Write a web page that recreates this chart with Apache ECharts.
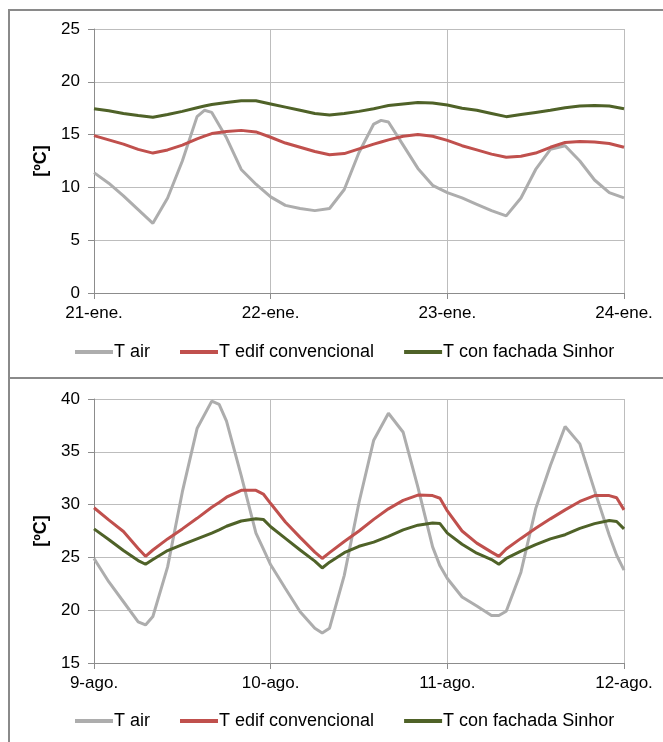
<!DOCTYPE html>
<html>
<head>
<meta charset="utf-8">
<script src="https://cdn.jsdelivr.net/npm/echarts@6/dist/echarts.min.js"></script>
<style>
  html, body { margin: 0; padding: 0; background: #ffffff; }
  #chart { width: 663px; height: 742px; }
</style>
</head>
<body>
<div id="chart"></div>
<script>
// Hours from the start of each 3-day window
const hoursWinter = [0,2,4,6,8,10,12,14,15,16,18,20,22,24,26,28,30,32,34,36,38,39,40,42,44,46,48,50,52,54,56,58,60,62,64,66,68,70,72];
const hoursSummer = [0,2,4,6,7,8,10,12,14,16,17,18,20,22,23,24,26,28,30,31,32,34,36,38,40,42,44,46,47,48,50,52,54,55,56,58,60,62,64,66,68,70,71,72];

// Day tick labels
const winterDays = ['21-ene.', '22-ene.', '23-ene.', '24-ene.'];
const summerDays = ['9-ago.', '10-ago.', '11-ago.', '12-ago.'];

const seriesNames = ['T air', 'T edif convencional', 'T con fachada Sinhor'];

// 21-24 January
const winterAir = [11.4,10.4,9.2,7.9,6.6,9.0,12.5,16.7,17.3,17.1,14.7,11.7,10.3,9.1,8.3,8.0,7.8,8.0,9.8,13.3,16.0,16.35,16.2,14.0,11.8,10.2,9.5,9.0,8.4,7.8,7.3,9.0,11.7,13.6,13.95,12.5,10.7,9.5,9.0];
const winterConv = [14.9,14.5,14.1,13.6,13.25,13.55,14.0,14.6,14.85,15.1,15.3,15.4,15.25,14.75,14.2,13.8,13.4,13.1,13.2,13.65,14.1,14.3,14.5,14.85,15.0,14.85,14.45,13.95,13.55,13.15,12.85,12.95,13.25,13.8,14.25,14.35,14.3,14.15,13.8];
const winterSinhor = [17.45,17.25,17.0,16.8,16.65,16.9,17.2,17.55,17.7,17.85,18.05,18.2,18.2,17.9,17.6,17.3,17.0,16.85,17.0,17.2,17.45,17.6,17.75,17.9,18.05,18.0,17.8,17.5,17.3,17.0,16.7,16.9,17.1,17.3,17.55,17.7,17.75,17.7,17.45];

// 9-12 August
const summerAir = [24.9,22.7,20.8,18.9,18.6,19.4,24.1,31.2,37.2,39.8,39.5,37.9,32.75,27.3,25.8,24.3,22.05,19.85,18.3,17.85,18.3,23.3,30.2,36.1,38.65,36.85,31.65,26.0,24.2,23.0,21.25,20.4,19.5,19.5,19.9,23.6,29.6,33.7,37.4,35.75,31.35,27.1,25.2,23.8];
const summerConv = [29.7,28.55,27.45,25.85,25.1,25.7,26.75,27.7,28.7,29.75,30.2,30.7,31.35,31.35,31.0,30.1,28.35,26.9,25.5,24.9,25.45,26.5,27.5,28.6,29.6,30.4,30.9,30.85,30.6,29.4,27.5,26.35,25.5,25.1,25.8,26.8,27.75,28.65,29.5,30.3,30.85,30.85,30.65,29.5];
const summerSinhor = [27.7,26.7,25.65,24.7,24.35,24.8,25.65,26.2,26.75,27.3,27.6,27.95,28.45,28.65,28.6,27.9,26.8,25.7,24.65,24.0,24.55,25.45,26.05,26.45,27.0,27.6,28.05,28.25,28.2,27.3,26.25,25.4,24.8,24.35,24.9,25.6,26.2,26.75,27.15,27.75,28.2,28.5,28.4,27.7];

const colors = ['#ADADAD', '#C0504D', '#4F6228'];
const font = '"Liberation Sans", Arial, sans-serif';
const axisGray = '#8C8C8C';
const gridGray = '#BDBDBD';

function pairs(hours, values) {
  return hours.map((h, i) => [h, values[i]]);
}

function xAxisFor(gridIndex, labels) {
  return {
    type: 'value', gridIndex, min: 0, max: 72, interval: 24,
    axisLine: { show: true, onZero: false, lineStyle: { color: axisGray, width: 1 } },
    axisTick: { show: true, length: 6, lineStyle: { color: axisGray } },
    splitLine: { show: true, lineStyle: { color: gridGray, width: 1 } },
    axisLabel: {
      color: '#000', fontFamily: font, fontSize: 17, margin: 12,
      showMinLabel: true, showMaxLabel: true,
      formatter: v => labels[Math.round(v / 24)]
    }
  };
}

function yAxisFor(gridIndex, min, max) {
  return {
    type: 'value', gridIndex, min, max, interval: 5,
    name: '[ºC]', nameLocation: 'middle', nameGap: 40, nameRotate: 90,
    nameTextStyle: { color: '#000', fontFamily: font, fontSize: 18, fontWeight: 'bold' },
    axisLine: { show: true, lineStyle: { color: axisGray, width: 1 } },
    axisTick: { show: true, length: 6, lineStyle: { color: axisGray } },
    splitLine: { show: true, lineStyle: { color: gridGray, width: 1 } },
    axisLabel: { color: '#000', fontFamily: font, fontSize: 17, margin: 14 }
  };
}

function lineSeries(name, idx, data, color) {
  return {
    name, type: 'line', xAxisIndex: idx, yAxisIndex: idx,
    data, symbol: 'none', smooth: false, animation: false,
    lineStyle: { color, width: 3 }, itemStyle: { color }
  };
}

function legendAt(top) {
  return {
    top, left: 75, padding: 0, itemWidth: 38, itemHeight: 4, itemGap: 30, icon: 'rect',
    selectedMode: false,
    textStyle: { color: '#000', fontFamily: font, fontSize: 18, padding: [0, 0, 0, -4] },
    data: seriesNames
  };
}

const chart = echarts.init(document.getElementById('chart'), null, { renderer: 'canvas' });
chart.setOption({
  animation: false,
  backgroundColor: '#ffffff',
  grid: [
    { left: 94, top: 29, width: 530, height: 264 },
    { left: 94, top: 399, width: 530, height: 264 }
  ],
  xAxis: [xAxisFor(0, winterDays), xAxisFor(1, summerDays)],
  yAxis: [yAxisFor(0, 0, 25), yAxisFor(1, 15, 40)],
  legend: [legendAt(343), legendAt(712)],
  graphic: [
    { type: 'rect', shape: { x: 9, y: 10, width: 720, height: 368 }, style: { fill: 'none', stroke: '#8A8A8A', lineWidth: 2 }, silent: true },
    { type: 'rect', shape: { x: 9, y: 378, width: 720, height: 420 }, style: { fill: 'none', stroke: '#8A8A8A', lineWidth: 2 }, silent: true }
  ],
  series: [
    lineSeries(seriesNames[0], 0, pairs(hoursWinter, winterAir), colors[0]),
    lineSeries(seriesNames[1], 0, pairs(hoursWinter, winterConv), colors[1]),
    lineSeries(seriesNames[2], 0, pairs(hoursWinter, winterSinhor), colors[2]),
    lineSeries(seriesNames[0], 1, pairs(hoursSummer, summerAir), colors[0]),
    lineSeries(seriesNames[1], 1, pairs(hoursSummer, summerConv), colors[1]),
    lineSeries(seriesNames[2], 1, pairs(hoursSummer, summerSinhor), colors[2])
  ]
});
</script>
</body>
</html>
